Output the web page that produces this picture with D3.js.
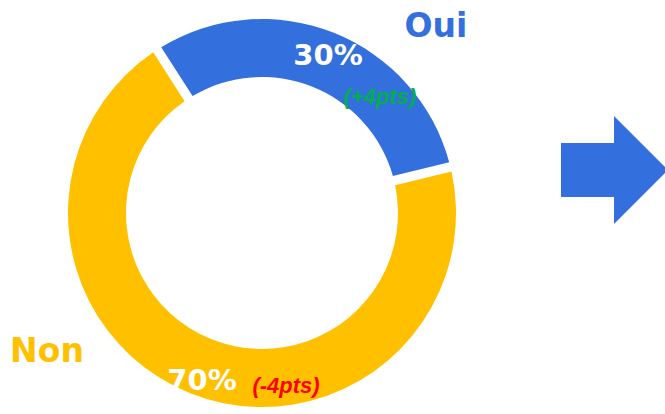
<!DOCTYPE html>
<html><head><meta charset="utf-8">
<script src="https://cdn.jsdelivr.net/npm/d3@7"></script>
<style>html,body{margin:0;padding:0;background:#fff;overflow:hidden}</style>
</head><body>
<svg id="c" width="665" height="414"></svg>
<script>
const categories = ["Oui", "Non"];
const values = [30, 70];
const changes = ["(+4pts)", "(-4pts)"];
const colors = ["#336FDD", "#FFC000"];
const changeColors = ["#00B050", "#FF0000"];

const svg = d3.select("#c");
const W = 665, H = 414;
const cx = 262, cy = 213, R = 194, r = 136;
const start = -32.7 * Math.PI / 180;

const pie = d3.pie().sort(null).value(d => d).startAngle(start).endAngle(start + 2 * Math.PI).padAngle(0.04);
const arcs = pie(values);
const arc = d3.arc().innerRadius(r).outerRadius(R);

const g = svg.append("g").attr("transform", `translate(${cx},${cy})`);
g.selectAll("path").data(arcs).enter().append("path")
  .attr("d", arc).attr("fill", (d, i) => colors[i]);

const font = "'DejaVu Sans', sans-serif";
const font2 = "'Liberation Sans', Arial, sans-serif";
// category labels
svg.append("text").attr("x", 436).attr("y", 37).attr("text-anchor", "middle")
  .attr("font-family", font).attr("font-weight", "bold").attr("font-size", 33)
  .attr("fill", colors[0]).text(categories[0]);
svg.append("text").attr("x", 47).attr("y", 362).attr("text-anchor", "middle")
  .attr("font-family", font).attr("font-weight", "bold").attr("font-size", 33)
  .attr("fill", colors[1]).text(categories[1]);

// percentage labels
svg.append("text").attr("x", 328).attr("y", 65).attr("text-anchor", "middle")
  .attr("font-family", font).attr("font-weight", "bold").attr("font-size", 29)
  .attr("fill", "#fff").text(values[0] + "%");
svg.append("text").attr("x", 202).attr("y", 390).attr("text-anchor", "middle")
  .attr("font-family", font).attr("font-weight", "bold").attr("font-size", 29)
  .attr("fill", "#fff").text(values[1] + "%");

// change labels
svg.append("text").attr("x", 380).attr("y", 104).attr("text-anchor", "middle")
  .attr("font-family", font2).attr("font-weight", "bold").attr("font-style", "italic").attr("font-size", 22)
  .attr("fill", changeColors[0]).text(changes[0]);
svg.append("text").attr("x", 286).attr("y", 393).attr("text-anchor", "middle")
  .attr("font-family", font2).attr("font-weight", "bold").attr("font-style", "italic").attr("font-size", 22)
  .attr("fill", changeColors[1]).text(changes[1]);

// arrow
const arrow = d3.path();
arrow.moveTo(561, 143); arrow.lineTo(614, 143); arrow.lineTo(614, 116);
arrow.lineTo(668, 170); arrow.lineTo(614, 224); arrow.lineTo(614, 197);
arrow.lineTo(561, 197); arrow.closePath();
svg.append("path").attr("d", arrow.toString()).attr("fill", colors[0]);
</script>
</body></html>
